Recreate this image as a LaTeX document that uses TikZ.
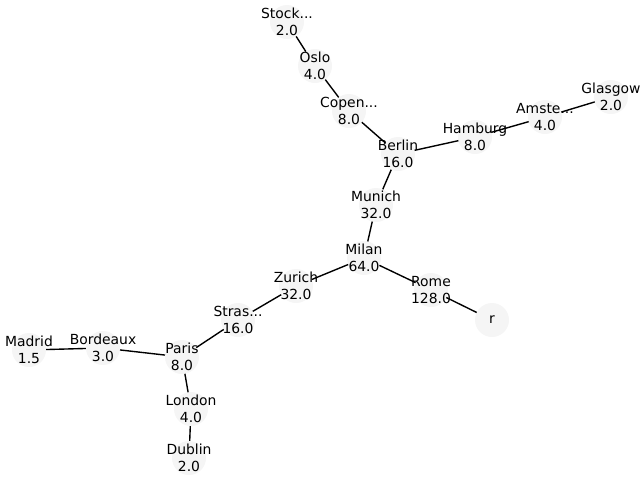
\documentclass[tikz,border=0pt]{standalone}
\usepackage{fontspec}
\setmainfont{DejaVu Sans}
\pgfdeclarelayer{bg}
\pgfsetlayers{bg,main}
\definecolor{nodefill}{HTML}{F5F5F5}
\tikzset{
  dot/.style={circle, fill=nodefill, minimum size=34pt, inner sep=0pt},
  lbl/.style={align=center, inner sep=0pt, font=\fontsize{13.9}{16.7}\selectfont, text=black},
  edge/.style={draw=black, line width=1.39pt}
}
\begin{document}
\begin{tikzpicture}[x=1pt,y=-1pt]
\useasboundingbox (0,0) rectangle (640,480);
\node[dot] (stock) at (287,22) {};
\node[dot] (oslo) at (315,66) {};
\node[dot] (copen) at (349,111) {};
\node[dot] (berlin) at (398,154) {};
\node[dot] (hamburg) at (475,137) {};
\node[dot] (amste) at (545,117) {};
\node[dot] (glasgow) at (611,97) {};
\node[dot] (munich) at (376,205) {};
\node[dot] (milan) at (364,258) {};
\node[dot] (rome) at (431,290) {};
\node[dot] (r) at (492,320) {};
\node[dot] (zurich) at (296,286) {};
\node[dot] (stras) at (238,320) {};
\node[dot] (paris) at (182,357) {};
\node[dot] (bordeaux) at (103,348) {};
\node[dot] (madrid) at (29,350) {};
\node[dot] (london) at (191,409) {};
\node[dot] (dublin) at (189,458) {};
\node[lbl] at (stock) {Stock...\\2.0};
\node[lbl] at (oslo) {Oslo\\4.0};
\node[lbl] at (copen) {Copen...\\8.0};
\node[lbl] at (berlin) {Berlin\\16.0};
\node[lbl] at (hamburg) {Hamburg\\8.0};
\node[lbl] at (amste) {Amste...\\4.0};
\node[lbl] at (glasgow) {Glasgow\\2.0};
\node[lbl] at (munich) {Munich\\32.0};
\node[lbl] at (milan) {Milan\\64.0};
\node[lbl] at (rome) {Rome\\128.0};
\node[lbl] at (r) {r};
\node[lbl] at (zurich) {Zurich\\32.0};
\node[lbl] at (stras) {Stras...\\16.0};
\node[lbl] at (paris) {Paris\\8.0};
\node[lbl] at (bordeaux) {Bordeaux\\3.0};
\node[lbl] at (madrid) {Madrid\\1.5};
\node[lbl] at (london) {London\\4.0};
\node[lbl] at (dublin) {Dublin\\2.0};
\begin{pgfonlayer}{bg}
\draw[edge] (stock.center) -- (oslo.center);
\draw[edge] (oslo.center) -- (copen.center);
\draw[edge] (copen.center) -- (berlin.center);
\draw[edge] (berlin.center) -- (hamburg.center);
\draw[edge] (hamburg.center) -- (amste.center);
\draw[edge] (amste.center) -- (glasgow.center);
\draw[edge] (berlin.center) -- (munich.center);
\draw[edge] (munich.center) -- (milan.center);
\draw[edge] (milan.center) -- (rome.center);
\draw[edge] (rome.center) -- (r.center);
\draw[edge] (milan.center) -- (zurich.center);
\draw[edge] (zurich.center) -- (stras.center);
\draw[edge] (stras.center) -- (paris.center);
\draw[edge] (paris.center) -- (bordeaux.center);
\draw[edge] (bordeaux.center) -- (madrid.center);
\draw[edge] (paris.center) -- (london.center);
\draw[edge] (london.center) -- (dublin.center);
\end{pgfonlayer}
\end{tikzpicture}
\end{document}
